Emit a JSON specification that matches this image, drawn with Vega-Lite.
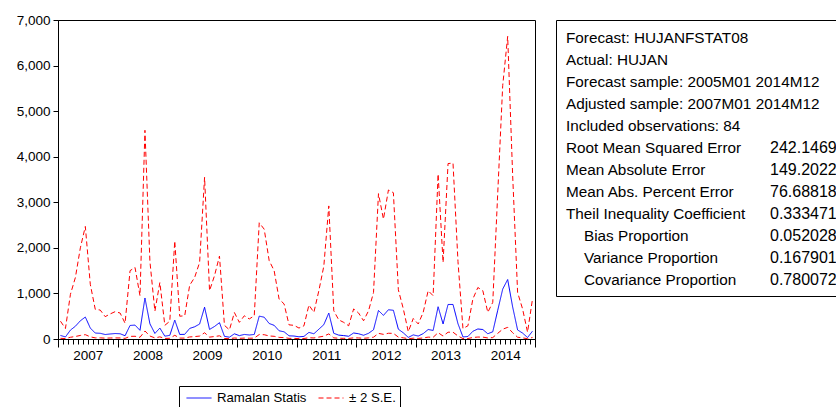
{
  "$schema": "https://vega.github.io/schema/vega-lite/v6.json",
  "background": "white",
  "padding": {"left": 12, "top": 12, "right": 0, "bottom": 0},
  "bounds": "flush",
  "spacing": 21,
  "config": {
    "font": "Liberation Sans",
    "view": {"stroke": "black", "strokeWidth": 1},
    "axis": {"domainColor": "black", "tickColor": "black", "labelColor": "black", "grid": false, "labelFont": "Liberation Sans"},
    "legend": {"labelFont": "Liberation Sans"}
  },
  "datasets": {
    "fc": [
      {"m":"2007M01","t":0,"f":78,"u":390,"l":15},
      {"m":"2007M02","t":1,"f":45,"u":230,"l":9},
      {"m":"2007M03","t":2,"f":195,"u":980,"l":38},
      {"m":"2007M04","t":3,"f":280,"u":1350,"l":55},
      {"m":"2007M05","t":4,"f":400,"u":2000,"l":78},
      {"m":"2007M06","t":5,"f":482,"u":2470,"l":95},
      {"m":"2007M07","t":6,"f":240,"u":1200,"l":47},
      {"m":"2007M08","t":7,"f":130,"u":650,"l":25},
      {"m":"2007M09","t":8,"f":125,"u":635,"l":25},
      {"m":"2007M10","t":9,"f":98,"u":490,"l":19},
      {"m":"2007M11","t":10,"f":110,"u":550,"l":22},
      {"m":"2007M12","t":11,"f":120,"u":600,"l":24},
      {"m":"2008M01","t":12,"f":115,"u":570,"l":23},
      {"m":"2008M02","t":13,"f":72,"u":345,"l":14},
      {"m":"2008M03","t":14,"f":297,"u":1500,"l":58},
      {"m":"2008M04","t":15,"f":305,"u":1570,"l":60},
      {"m":"2008M05","t":16,"f":190,"u":950,"l":37},
      {"m":"2008M06","t":17,"f":900,"u":4580,"l":176},
      {"m":"2008M07","t":18,"f":333,"u":1700,"l":65},
      {"m":"2008M08","t":19,"f":122,"u":610,"l":24},
      {"m":"2008M09","t":20,"f":240,"u":1240,"l":47},
      {"m":"2008M10","t":21,"f":62,"u":300,"l":12},
      {"m":"2008M11","t":22,"f":80,"u":390,"l":16},
      {"m":"2008M12","t":23,"f":415,"u":2150,"l":81},
      {"m":"2009M01","t":24,"f":100,"u":500,"l":20},
      {"m":"2009M02","t":25,"f":102,"u":510,"l":20},
      {"m":"2009M03","t":26,"f":232,"u":1180,"l":45},
      {"m":"2009M04","t":27,"f":268,"u":1350,"l":53},
      {"m":"2009M05","t":28,"f":328,"u":1680,"l":64},
      {"m":"2009M06","t":29,"f":698,"u":3550,"l":137},
      {"m":"2009M07","t":30,"f":210,"u":1060,"l":41},
      {"m":"2009M08","t":31,"f":275,"u":1390,"l":54},
      {"m":"2009M09","t":32,"f":358,"u":1820,"l":70},
      {"m":"2009M10","t":33,"f":58,"u":300,"l":11},
      {"m":"2009M11","t":34,"f":40,"u":200,"l":8},
      {"m":"2009M12","t":35,"f":114,"u":580,"l":22},
      {"m":"2010M01","t":36,"f":74,"u":365,"l":15},
      {"m":"2010M02","t":37,"f":100,"u":510,"l":20},
      {"m":"2010M03","t":38,"f":88,"u":440,"l":17},
      {"m":"2010M04","t":39,"f":100,"u":510,"l":20},
      {"m":"2010M05","t":40,"f":502,"u":2550,"l":98},
      {"m":"2010M06","t":41,"f":478,"u":2410,"l":94},
      {"m":"2010M07","t":42,"f":340,"u":1720,"l":67},
      {"m":"2010M08","t":43,"f":300,"u":1500,"l":59},
      {"m":"2010M09","t":44,"f":180,"u":875,"l":35},
      {"m":"2010M10","t":45,"f":158,"u":770,"l":31},
      {"m":"2010M11","t":46,"f":70,"u":310,"l":14},
      {"m":"2010M12","t":47,"f":65,"u":300,"l":13},
      {"m":"2011M01","t":48,"f":48,"u":240,"l":9},
      {"m":"2011M02","t":49,"f":57,"u":290,"l":11},
      {"m":"2011M03","t":50,"f":145,"u":745,"l":28},
      {"m":"2011M04","t":51,"f":115,"u":585,"l":23},
      {"m":"2011M05","t":52,"f":215,"u":1060,"l":42},
      {"m":"2011M06","t":53,"f":315,"u":1600,"l":62},
      {"m":"2011M07","t":54,"f":570,"u":2920,"l":112},
      {"m":"2011M08","t":55,"f":125,"u":620,"l":25},
      {"m":"2011M09","t":56,"f":85,"u":420,"l":17},
      {"m":"2011M10","t":57,"f":75,"u":365,"l":15},
      {"m":"2011M11","t":58,"f":60,"u":290,"l":12},
      {"m":"2011M12","t":59,"f":132,"u":660,"l":26},
      {"m":"2012M01","t":60,"f":115,"u":570,"l":23},
      {"m":"2012M02","t":61,"f":82,"u":400,"l":16},
      {"m":"2012M03","t":62,"f":125,"u":620,"l":25},
      {"m":"2012M04","t":63,"f":202,"u":1020,"l":40},
      {"m":"2012M05","t":64,"f":626,"u":3190,"l":123},
      {"m":"2012M06","t":65,"f":518,"u":2630,"l":102},
      {"m":"2012M07","t":66,"f":642,"u":3270,"l":126},
      {"m":"2012M08","t":67,"f":630,"u":3210,"l":124},
      {"m":"2012M09","t":68,"f":215,"u":1080,"l":42},
      {"m":"2012M10","t":69,"f":135,"u":660,"l":26},
      {"m":"2012M11","t":70,"f":35,"u":160,"l":7},
      {"m":"2012M12","t":71,"f":90,"u":450,"l":18},
      {"m":"2013M01","t":72,"f":65,"u":330,"l":13},
      {"m":"2013M02","t":73,"f":118,"u":585,"l":23},
      {"m":"2013M03","t":74,"f":208,"u":1060,"l":41},
      {"m":"2013M04","t":75,"f":188,"u":950,"l":37},
      {"m":"2013M05","t":76,"f":708,"u":3620,"l":139},
      {"m":"2013M06","t":77,"f":330,"u":1680,"l":65},
      {"m":"2013M07","t":78,"f":758,"u":3850,"l":149},
      {"m":"2013M08","t":79,"f":758,"u":3860,"l":149},
      {"m":"2013M09","t":80,"f":335,"u":1700,"l":66},
      {"m":"2013M10","t":81,"f":45,"u":230,"l":9},
      {"m":"2013M11","t":82,"f":55,"u":290,"l":11},
      {"m":"2013M12","t":83,"f":170,"u":880,"l":33},
      {"m":"2014M01","t":84,"f":220,"u":1130,"l":43},
      {"m":"2014M02","t":85,"f":208,"u":1060,"l":41},
      {"m":"2014M03","t":86,"f":115,"u":585,"l":23},
      {"m":"2014M04","t":87,"f":158,"u":805,"l":31},
      {"m":"2014M05","t":88,"f":630,"u":3200,"l":124},
      {"m":"2014M06","t":89,"f":1095,"u":5560,"l":215},
      {"m":"2014M07","t":90,"f":1305,"u":6640,"l":256},
      {"m":"2014M08","t":91,"f":705,"u":3600,"l":138},
      {"m":"2014M09","t":92,"f":198,"u":1020,"l":39},
      {"m":"2014M10","t":93,"f":130,"u":660,"l":25},
      {"m":"2014M11","t":94,"f":32,"u":150,"l":6},
      {"m":"2014M12","t":95,"f":172,"u":880,"l":34}
    ],
    "stats": [
      {"row":0,"col":0,"kind":"name","txt":"Forecast: HUJANFSTAT08"},
      {"row":1,"col":0,"kind":"name","txt":"Actual: HUJAN"},
      {"row":2,"col":0,"kind":"name","txt":"Forecast sample: 2005M01 2014M12"},
      {"row":3,"col":0,"kind":"name","txt":"Adjusted sample: 2007M01 2014M12"},
      {"row":4,"col":0,"kind":"name","txt":"Included observations: 84"},
      {"row":5,"col":0,"kind":"name","txt":"Root Mean Squared Error"},
      {"row":6,"col":0,"kind":"name","txt":"Mean Absolute Error"},
      {"row":7,"col":0,"kind":"name","txt":"Mean Abs. Percent Error"},
      {"row":8,"col":0,"kind":"name","txt":"Theil Inequality Coefficient"},
      {"row":9,"col":1,"kind":"name","txt":"Bias Proportion"},
      {"row":10,"col":1,"kind":"name","txt":"Variance Proportion"},
      {"row":11,"col":1,"kind":"name","txt":"Covariance Proportion"},
      {"row":5,"col":11.333,"kind":"num","txt":"242.1469"},
      {"row":6,"col":11.333,"kind":"num","txt":"149.2022"},
      {"row":7,"col":11.333,"kind":"num","txt":"76.68818"},
      {"row":8,"col":11.333,"kind":"num","txt":"0.333471"},
      {"row":9,"col":11.333,"kind":"num","txt":"0.052028"},
      {"row":10,"col":11.333,"kind":"num","txt":"0.167901"},
      {"row":11,"col":11.333,"kind":"num","txt":"0.780072"}
    ]
  },
  "hconcat": [
    {
      "width": 477,
      "height": 319,
      "data": {"name": "fc"},
      "transform": [{"fold": ["f", "u", "l"], "as": ["key", "value"]}],
      "mark": {"type": "line", "strokeWidth": 1},
      "encoding": {
        "x": {
          "field": "t", "type": "quantitative",
          "scale": {"domain": [-0.5, 95.5], "nice": false, "zero": false},
          "axis": {
            "title": null,
            "values": [-0.5,0.5,1.5,2.5,3.5,4.5,5.5,6.5,7.5,8.5,9.5,10.5,11.5,12.5,13.5,14.5,15.5,16.5,17.5,18.5,19.5,20.5,21.5,22.5,23.5,24.5,25.5,26.5,27.5,28.5,29.5,30.5,31.5,32.5,33.5,34.5,35.5,36.5,37.5,38.5,39.5,40.5,41.5,42.5,43.5,44.5,45.5,46.5,47.5,48.5,49.5,50.5,51.5,52.5,53.5,54.5,55.5,56.5,57.5,58.5,59.5,60.5,61.5,62.5,63.5,64.5,65.5,66.5,67.5,68.5,69.5,70.5,71.5,72.5,73.5,74.5,75.5,76.5,77.5,78.5,79.5,80.5,81.5,82.5,83.5,84.5,85.5,86.5,87.5,88.5,89.5,90.5,91.5,92.5,93.5,94.5,95.5],
            "labelExpr": "(datum.value - 5.5) % 12 == 0 ? '' + (2007 + (datum.value - 5.5) / 12) : ''",
            "tickSize": {"condition": {"test": "(datum.value + 0.5) % 12 == 0", "value": 8}, "value": 5},
            "labelFontSize": 13.5,
            "labelPadding": 4,
            "labelOverlap": false,
            "labelFlush": false,
            "labelBound": false
          }
        },
        "y": {
          "field": "value", "type": "quantitative",
          "scale": {"domain": [0, 7000], "nice": false},
          "axis": {
            "title": null,
            "values": [0, 1000, 2000, 3000, 4000, 5000, 6000, 7000],
            "format": ",d",
            "tickSize": 5,
            "labelPadding": 3,
            "labelFontSize": 13.5,
            "minExtent": 45,
            "maxExtent": 45
          }
        },
        "color": {
          "field": "key", "type": "nominal",
          "scale": {"domain": ["f", "u", "l"], "range": ["#0000ff", "#ff0000", "#ff0000"]},
          "legend": {
            "values": ["f", "u"],
            "labelExpr": "datum.value == 'f' ? 'Ramalan Statis' : '± 2 S.E.'",
            "title": null, "orient": "none", "legendX": 121, "legendY": 366,
            "direction": "horizontal", "strokeColor": "black", "padding": 4, "symbolOffset": 3,
            "clipHeight": 16,
            "symbolType": "stroke", "symbolSize": 625, "symbolStrokeWidth": 1,
            "labelFontSize": 13.2, "labelOffset": 5, "columnPadding": 8, "labelColor": "black"
          }
        },
        "strokeDash": {
          "field": "key", "type": "nominal",
          "scale": {"domain": ["f", "u", "l"], "range": [[1, 0], [5, 3], [5, 3]]},
          "legend": {
            "values": ["f", "u"],
            "labelExpr": "datum.value == 'f' ? 'Ramalan Statis' : '± 2 S.E.'",
            "title": null, "orient": "none", "legendX": 121, "legendY": 366,
            "direction": "horizontal", "strokeColor": "black", "padding": 4, "symbolOffset": 3,
            "clipHeight": 16,
            "symbolType": "stroke", "symbolSize": 625, "symbolStrokeWidth": 1,
            "labelFontSize": 13.2, "labelOffset": 5, "columnPadding": 8, "labelColor": "black"
          }
        }
      }
    },
    {
      "width": 281,
      "height": 276,
      "view": {"stroke": null},
      "data": {"name": "stats"},
      "resolve": {"axis": {"x": "independent"}},
      "layer": [
        {
          "transform": [{"filter": "datum.kind == 'name'"}],
          "mark": {"type": "text", "align": "left", "baseline": "middle", "fontSize": 15.3, "font": "Liberation Sans", "color": "black"},
          "encoding": {
            "x": {"field": "col", "type": "quantitative", "scale": {"domain": [-0.5556, 15.0556], "nice": false, "zero": false},
                  "axis": {"orient": "bottom", "domain": true, "ticks": false, "labels": false, "title": null, "domainColor": "black"}},
            "y": {"field": "row", "type": "quantitative", "scale": {"domain": [-0.8, 11.72], "reverse": true, "nice": false, "zero": false},
                  "axis": {"orient": "left", "domain": true, "ticks": false, "labels": false, "title": null, "domainColor": "black"}},
            "text": {"field": "txt"}
          }
        },
        {
          "transform": [{"filter": "datum.kind == 'num'"}],
          "mark": {"type": "text", "align": "left", "baseline": "middle", "fontSize": 16, "font": "Liberation Sans", "color": "black"},
          "encoding": {
            "x": {"field": "col", "type": "quantitative",
                  "axis": {"orient": "top", "domain": true, "ticks": false, "labels": false, "title": null, "domainColor": "black"}},
            "y": {"field": "row", "type": "quantitative"},
            "text": {"field": "txt"}
          }
        }
      ]
    }
  ]
}
